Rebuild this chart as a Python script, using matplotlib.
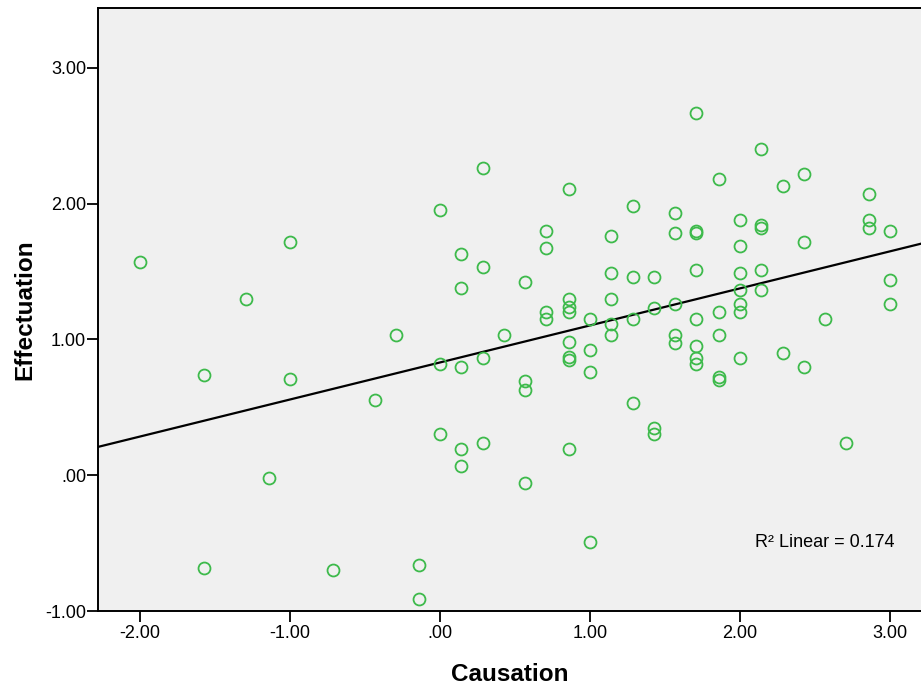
import numpy as np
import matplotlib
matplotlib.use("Agg")
import matplotlib.pyplot as plt

plt.rcParams['font.family'] = ['Liberation Sans', 'DejaVu Sans']

# Data (Causation, Effectuation)
causation = [
    -2.00, -1.57, -1.57, -1.29, -1.14, -1.00, -1.00, -0.71, -0.43, -0.29, -0.14, -0.14,
    0.00, 0.00, 0.00,
    0.14, 0.14, 0.14, 0.14, 0.14,
    0.29, 0.29, 0.29, 0.29,
    0.43,
    0.57, 0.57, 0.57, 0.57,
    0.71, 0.71, 0.71, 0.71,
    0.86, 0.86, 0.86, 0.86, 0.86, 0.86, 0.86, 0.86,
    1.00, 1.00, 1.00, 1.00,
    1.14, 1.14, 1.14, 1.14, 1.14,
    1.29, 1.29, 1.29, 1.29,
    1.43, 1.43, 1.43, 1.43,
    1.57, 1.57, 1.57, 1.57, 1.57,
    1.71, 1.71, 1.71, 1.71, 1.71, 1.71, 1.71, 1.71,
    1.86, 1.86, 1.86, 1.86, 1.86,
    2.00, 2.00, 2.00, 2.00, 2.00, 2.00, 2.00,
    2.14, 2.14, 2.14, 2.14, 2.14,
    2.29, 2.29,
    2.43, 2.43, 2.43,
    2.57, 2.71,
    2.86, 2.86, 2.86,
    3.00, 3.00, 3.00,
]
effectuation = [
    1.57, 0.74, -0.68, 1.30, -0.02, 1.72, 0.71, -0.70, 0.55, 1.03, -0.66, -0.91,
    1.95, 0.82, 0.30,
    1.63, 1.38, 0.80, 0.19, 0.07,
    2.26, 1.53, 0.86, 0.24,
    1.03,
    1.42, 0.69, 0.63, -0.06,
    1.80, 1.67, 1.20, 1.15,
    2.11, 1.30, 1.24, 1.20, 0.98, 0.87, 0.85, 0.19,
    1.15, 0.92, 0.76, -0.49,
    1.76, 1.49, 1.30, 1.11, 1.03,
    1.98, 1.46, 1.15, 0.53,
    1.46, 1.23, 0.35, 0.30,
    1.93, 1.78, 1.26, 1.03, 0.97,
    2.67, 1.80, 1.78, 1.51, 1.15, 0.95, 0.86, 0.82,
    2.18, 1.20, 1.03, 0.72, 0.70,
    1.88, 1.69, 1.49, 1.36, 1.26, 1.20, 0.86,
    2.40, 1.84, 1.82, 1.51, 1.36,
    2.13, 0.90,
    2.22, 1.72, 0.80,
    1.15, 0.24,
    2.07, 1.88, 1.82,
    1.80, 1.44, 1.26,
]

x_ticks = [-2, -1, 0, 1, 2, 3]
x_tick_labels = ['-2.00', '-1.00', '.00', '1.00', '2.00', '3.00']
y_ticks = [-1, 0, 1, 2, 3]
y_tick_labels = ['-1.00', '.00', '1.00', '2.00', '3.00']
r2_text = 'R\u00b2 Linear = 0.174'

x = np.array(causation)
y = np.array(effectuation)

fig = plt.figure(figsize=(9.21, 6.88), dpi=100)
ax = fig.add_axes([98/921, 1-611/688, 1-98/921, (611-8)/688])
ax.set_facecolor('#F0F0F0')

xlim = (-2.28, 3.207)
ax.set_xlim(*xlim)
ax.set_ylim(-1.0, 3.44)

ax.plot(x, y, linestyle='none', marker='o', ms=8.6, mfc='none',
        mec='#3DBA4B', mew=1.3, zorder=3)

slope, intercept = np.polyfit(x, y, 1)
lx = np.array(xlim)
ax.plot(lx, intercept + slope * lx, color='black', lw=1.6, zorder=2)

ax.set_xticks(x_ticks)
ax.set_xticklabels(x_tick_labels)
ax.set_yticks(y_ticks)
ax.set_yticklabels(y_tick_labels)
ax.tick_params(direction='out', length=8, width=1.3, labelsize=13, colors='black')
ax.tick_params(axis='y', pad=0.5)
ax.tick_params(axis='x', pad=2)

for side in ['left', 'bottom', 'top']:
    ax.spines[side].set_linewidth(1.4)
    ax.spines[side].set_color('black')
ax.spines['right'].set_visible(False)

ax.set_xlabel('Causation', fontsize=17.5, fontweight='bold', labelpad=15)
ax.set_ylabel('Effectuation', fontsize=17.5, fontweight='bold', labelpad=6)

ax.text(3.03, -0.53, r2_text, ha='right', va='baseline', fontsize=13)

fig.savefig('out.png', dpi=100, facecolor='white')
